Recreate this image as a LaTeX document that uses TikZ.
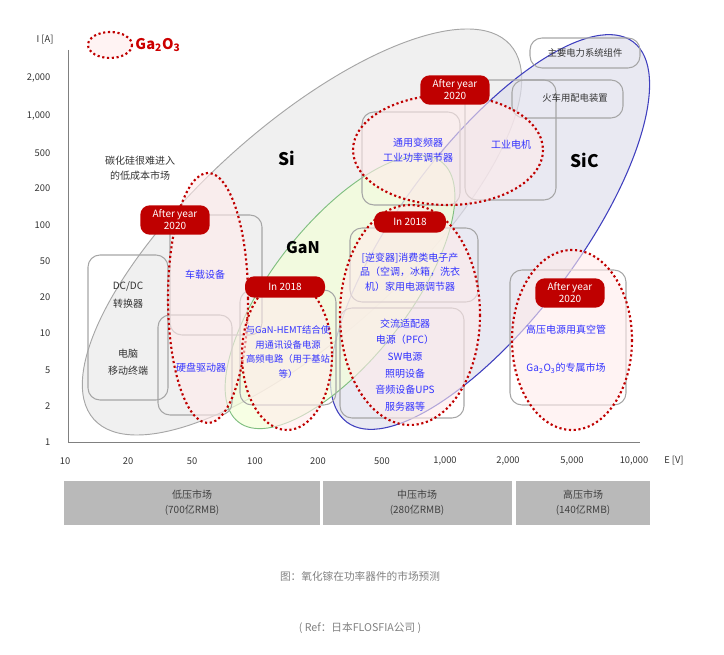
\documentclass[tikz,border=0pt]{standalone}
\usepackage{fontspec}
\setmainfont{Noto Sans CJK SC}
\begin{document}
\begin{tikzpicture}[x=0.75pt,y=-0.75pt,
  gbox/.style={draw=gray!70,line width=0.8pt,rounded corners=9pt},
  rdot/.style={draw=red!75!black,line width=1.6pt,dotted,fill=red!8,fill opacity=0.6},
  tag/.style={fill=red!75!black,text=white,rounded corners=7pt,font=\fontsize{7.5}{9}\selectfont,align=center,inner sep=2.5pt,minimum height=16pt},
  blue/.style={text=blue!80!white,font=\fontsize{7.5}{11}\selectfont,align=center},
  ax/.style={font=\fontsize{7}{8}\selectfont,text=black!80},
  bar/.style={fill=gray!55,draw=none}]
\useasboundingbox (0,0) rectangle (724,655);
% big ellipses
\fill[gray!12,draw=gray!70,line width=0.7pt,rotate around={42:(302,232)}] (302,232) ellipse (280 and 105);
\fill[blue!25!gray!20,fill opacity=0.7,draw=blue!50!gray,line width=0.8pt,rotate around={53:(490,232)}] (490,232) ellipse (238 and 88);
\fill[green!30!yellow!15,fill opacity=0.7,draw=green!50!black!50,line width=0.7pt,rotate around={52:(340,292)}] (340,292) ellipse (165 and 68);
% axes
\draw[gray,line width=0.6pt] (68,50) -- (68,442) -- (640,442);
\node[ax] (ia) at (45,40) {I [A]};
\foreach \v/\y in {{2,000}/78,{1,000}/116,500/153,200/188,100/225,50/261,20/297,10/333,5/370,2/406,1/442}
  \node[ax,anchor=east] at (55,\y) {\v};
\foreach \v/\x in {10/65,20/128,50/192,100/255,200/318,500/382,{1,000}/445,{2,000}/508,{5,000}/572,{10,000}/634}
  \node[ax] at (\x,461) {\v};
\node[ax] (ev) at (674,461) {E [V]};
% legend
\draw[rdot] (110,45) ellipse (22 and 13);
\node[text=red!80!black,font=\bfseries\fontsize{11}{12}\selectfont] (leg) at (158,45) {Ga\textsubscript{2}O\textsubscript{3}};
% gray boxes
\draw[gbox] (88,255) rectangle (168,400);
\draw[gbox] (170,215) rectangle (262,335);
\draw[gbox] (158,315) rectangle (232,415);
\draw[gbox] (240,290) rectangle (336,405);
\draw[gbox] (362,112) rectangle (460,205);
\draw[gbox] (465,80) rectangle (556,200);
\draw[gbox] (530,38) rectangle (640,68);
\draw[gbox] (512,80) rectangle (623,118);
\draw[gbox] (350,228) rectangle (478,302);
\draw[gbox] (340,308) rectangle (464,418);
\draw[gbox] (510,270) rectangle (626,405);
% red dotted ellipses
\draw[rdot] (208,298) ellipse (40 and 125);
\draw[rdot] (287,355) ellipse (45 and 75);
\draw[rdot] (448,150) ellipse (95 and 55);
\draw[rdot] (410,315) ellipse (70 and 110);
\draw[rdot] (572,340) ellipse (60 and 90);
% tags
\node[tag,minimum width=52pt,minimum height=22pt] (t1) at (175,220) {After year\\2020};
\node[tag,minimum width=60pt] (t2) at (285,287) {In 2018};
\node[tag,minimum width=52pt,minimum height=22pt] (t3) at (455,90) {After year\\2020};
\node[tag,minimum width=54pt] (t4) at (410,222) {In 2018};
\node[tag,minimum width=52pt,minimum height=22pt] (t5) at (570,293) {After year\\2020};
% big labels
\node[font=\bfseries\fontsize{13}{14}\selectfont] (si) at (287,158) {Si};
\node[font=\bfseries\fontsize{12}{13}\selectfont] (gan) at (303,248) {GaN};
\node[font=\bfseries\fontsize{13}{14}\selectfont] (sic) at (585,160) {SiC};
\node[font=\fontsize{7.5}{11}\selectfont,align=center,text=black!80] (c0) at (140,168) {碳化硅很难进入\\的低成本市场};
% texts
\node[font=\fontsize{7.5}{13}\selectfont,align=center,text=black!80] (dc) at (128,295) {DC/DC\\转换器};
\node[font=\fontsize{7.5}{13}\selectfont,align=center,text=black!80] (pc) at (128,362) {电脑\\移动终端};
\node[blue] (b1) at (205,275) {车载设备};
\node[blue] (b2) at (201,368) {硬盘驱动器};
\node[blue,font=\fontsize{7}{11}\selectfont] (b3) at (288,352) {与GaN-HEMT结合使\\用通讯设备电源\\高频电路（用于基站\\等）};
\node[blue] (b4) at (418,150) {通用变频器\\工业功率调节器};
\node[blue] (b5) at (511,145) {工业电机};
\node[font=\fontsize{7}{8}\selectfont,text=black!80] (b6) at (585,53) {主要电力系统组件};
\node[font=\fontsize{7}{8}\selectfont,text=black!80] (b7) at (575,98) {火车用配电装置};
\node[blue] (b8) at (410,272) {[逆变器]消费类电子产\\品（空调，冰箱，洗衣\\机）家用电源调节器};
\node[blue,font=\fontsize{7.5}{12.5}\selectfont] (b9) at (405,365) {交流适配器\\电源（PFC）\\SW电源\\照明设备\\音频设备UPS\\服务器等};
\node[blue] (b10) at (566,330) {高压电源用真空管};
\node[blue] (b11) at (566,368) {Ga\textsubscript{2}O\textsubscript{3}的专属市场};
% bottom bars
\fill[bar] (64,481) rectangle (320,525);
\fill[bar] (323,481) rectangle (512,525);
\fill[bar] (516,481) rectangle (650,525);
\node[font=\fontsize{7.5}{11}\selectfont,align=center,text=black!75] (m1) at (192,503) {低压市场\\(700亿RMB)};
\node[font=\fontsize{7.5}{11}\selectfont,align=center,text=black!75] (m2) at (417,503) {中压市场\\(280亿RMB)};
\node[font=\fontsize{7.5}{11}\selectfont,align=center,text=black!75] (m3) at (583,503) {高压市场\\(140亿RMB)};
\node[font=\itshape\fontsize{8}{9}\selectfont,text=gray] (cap) at (360,576) {图：氧化镓在功率器件的市场预测};
\node[font=\itshape\fontsize{8}{9}\selectfont,text=gray] (ref) at (360,628) {( Ref：日本FLOSFIA公司 )};
\end{tikzpicture}
\end{document}
